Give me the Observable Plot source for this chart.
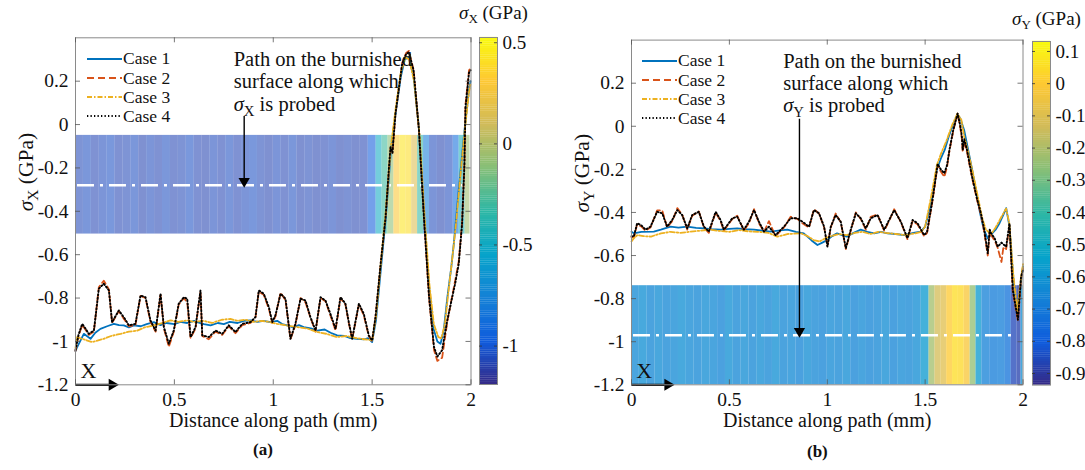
<!DOCTYPE html>
<html><head><meta charset="utf-8">
<script src="https://cdn.jsdelivr.net/npm/d3@7"></script>
<script src="https://cdn.jsdelivr.net/npm/@observablehq/plot@0.6"></script>
<style>
body{margin:0;background:#fff;font-family:"Liberation Serif","Times New Roman",serif;}
#root{position:relative;width:1085px;height:470px;overflow:hidden;background:#fff;}
.abs{position:absolute;}
.cbt{font-size:19px;white-space:nowrap;color:#111;}
.cbt sub{font-size:13px;vertical-align:-4px;}
.lg{font-size:17.5px;color:#111;white-space:nowrap;display:flex;align-items:center;height:19px;}
.lg svg{margin-right:1px;}
.pl{font-size:17px;font-weight:bold;color:#111;}
</style></head><body><div id="root"></div>
<script>
// ---------------- DATA ----------------
const xTicks = [0, 0.5, 1, 1.5, 2];
const yTicks = [0.2, 0, -0.2, -0.4, -0.6, -0.8, -1, -1.2];
const cbTicksA = [0.5, 0, -0.5, -1];
const cbTicksB = [0.1, 0, -0.1, -0.2, -0.3, -0.4, -0.5, -0.6, -0.7, -0.8, -0.9];
const cbDomainA = [-1.19, 0.526];
const cbDomainB = [-0.936, 0.131];
const caseNames = ["Case 1", "Case 2", "Case 3", "Case 4"];

// Panel (a): sigma_X along path
const a1 = [[0,-1.045],[0.008,-1.027],[0.042,-0.965],[0.076,-0.988],[0.1,-0.96],[0.126,-0.942],[0.16,-0.93],[0.194,-0.919],[0.22,-0.925],[0.244,-0.926],[0.27,-0.935],[0.295,-0.926],[0.33,-0.93],[0.36,-0.92],[0.396,-0.911],[0.43,-0.925],[0.46,-0.915],[0.5,-0.92],[0.53,-0.91],[0.565,-0.915],[0.6,-0.905],[0.615,-0.911],[0.65,-0.92],[0.683,-0.926],[0.72,-0.915],[0.75,-0.92],[0.78,-0.91],[0.82,-0.915],[0.85,-0.905],[0.885,-0.903],[0.92,-0.91],[0.95,-0.905],[0.986,-0.911],[1.02,-0.905],[1.045,-0.92],[1.07,-0.926],[1.1,-0.935],[1.13,-0.925],[1.154,-0.934],[1.19,-0.94],[1.222,-0.95],[1.26,-0.945],[1.29,-0.96],[1.323,-0.972],[1.36,-0.975],[1.39,-0.985],[1.424,-0.988],[1.46,-0.99],[1.48,-0.985],[1.5,-1.003],[1.52,-0.9],[1.545,-0.66],[1.57,-0.42],[1.595,-0.12],[1.62,0.06],[1.645,0.22],[1.665,0.3],[1.685,0.31],[1.71,0.22],[1.735,0.0],[1.76,-0.38],[1.785,-0.72],[1.81,-0.94],[1.83,-1.0],[1.846,-1.011],[1.862,-0.95],[1.88,-0.8],[1.9,-0.66],[1.913,-0.55],[1.938,-0.3],[1.967,-0.027],[1.99,0.16],[1.998,0.2]];
const a2 = [[0,-1.045],[0.015,-0.975],[0.034,-0.925],[0.05,-0.945],[0.067,-0.97],[0.093,-0.955],[0.118,-0.75],[0.143,-0.72],[0.169,-0.76],[0.185,-0.915],[0.219,-0.86],[0.244,-0.895],[0.27,-0.93],[0.303,-0.925],[0.329,-0.79],[0.354,-0.8],[0.379,-0.91],[0.405,-0.955],[0.43,-0.785],[0.447,-0.94],[0.472,-1.025],[0.497,-0.955],[0.522,-0.83],[0.548,-0.8],[0.565,-0.82],[0.582,-0.985],[0.607,-0.94],[0.632,-0.77],[0.641,-0.975],[0.674,-0.99],[0.708,-0.955],[0.742,-0.97],[0.775,-0.93],[0.809,-0.962],[0.843,-0.925],[0.885,-0.915],[0.91,-0.89],[0.927,-0.77],[0.952,-0.785],[0.978,-0.85],[0.995,-0.915],[1.011,-0.885],[1.037,-0.775],[1.062,-0.81],[1.087,-0.99],[1.112,-0.925],[1.138,-0.8],[1.163,-0.82],[1.188,-0.89],[1.214,-0.955],[1.239,-0.8],[1.264,-0.815],[1.289,-0.88],[1.315,-0.95],[1.34,-0.8],[1.365,-0.83],[1.382,-0.915],[1.399,-0.99],[1.433,-0.83],[1.458,-0.88],[1.483,-0.975],[1.5,-1.0],[1.517,-0.89],[1.543,-0.645],[1.568,-0.43],[1.585,-0.21],[1.593,-0.11],[1.603,-0.13],[1.618,0.05],[1.652,0.285],[1.672,0.33],[1.686,0.34],[1.71,0.25],[1.737,-0.03],[1.762,-0.43],[1.788,-0.8],[1.813,-1.04],[1.83,-1.09],[1.854,-1.075],[1.88,-0.91],[1.905,-0.79],[1.92,-0.72],[1.938,-0.63],[1.955,-0.45],[1.967,-0.17],[1.972,0.09],[1.99,0.25],[1.998,0.26]];
const a3 = [[0,-1.03],[0.008,-0.98],[0.04,-0.99],[0.084,-1.003],[0.115,-0.995],[0.143,-0.988],[0.18,-0.975],[0.228,-0.965],[0.27,-0.955],[0.312,-0.95],[0.35,-0.935],[0.396,-0.926],[0.44,-0.915],[0.48,-0.903],[0.52,-0.91],[0.565,-0.903],[0.6,-0.91],[0.65,-0.905],[0.69,-0.915],[0.74,-0.9],[0.783,-0.896],[0.82,-0.905],[0.86,-0.9],[0.9,-0.91],[0.94,-0.905],[0.98,-0.91],[1.02,-0.919],[1.06,-0.925],[1.12,-0.934],[1.17,-0.94],[1.222,-0.957],[1.27,-0.965],[1.32,-0.98],[1.37,-0.975],[1.42,-0.985],[1.46,-0.99],[1.5,-0.995],[1.52,-0.88],[1.545,-0.63],[1.57,-0.39],[1.595,-0.1],[1.62,0.08],[1.645,0.24],[1.668,0.31],[1.688,0.3],[1.712,0.2],[1.74,-0.05],[1.765,-0.42],[1.79,-0.74],[1.812,-0.92],[1.835,-0.98],[1.85,-0.985],[1.868,-0.92],[1.886,-0.77],[1.905,-0.62],[1.925,-0.45],[1.945,-0.25],[1.968,-0.03],[1.99,0.15],[1.998,0.19]];
const a4 = [[0,-1.04],[0.015,-0.97],[0.034,-0.919],[0.05,-0.94],[0.067,-0.965],[0.093,-0.95],[0.118,-0.757],[0.143,-0.734],[0.169,-0.765],[0.185,-0.911],[0.219,-0.857],[0.244,-0.888],[0.27,-0.926],[0.303,-0.919],[0.329,-0.788],[0.354,-0.796],[0.379,-0.903],[0.405,-0.95],[0.43,-0.78],[0.447,-0.934],[0.472,-1.011],[0.497,-0.95],[0.522,-0.826],[0.548,-0.796],[0.565,-0.803],[0.582,-0.98],[0.607,-0.934],[0.632,-0.765],[0.641,-0.972],[0.674,-0.98],[0.708,-0.95],[0.742,-0.965],[0.775,-0.926],[0.809,-0.957],[0.843,-0.919],[0.885,-0.911],[0.91,-0.888],[0.927,-0.765],[0.952,-0.78],[0.978,-0.842],[0.995,-0.911],[1.011,-0.88],[1.037,-0.78],[1.062,-0.803],[1.087,-0.988],[1.112,-0.919],[1.138,-0.803],[1.163,-0.811],[1.188,-0.888],[1.214,-0.95],[1.239,-0.796],[1.264,-0.811],[1.289,-0.873],[1.315,-0.942],[1.34,-0.796],[1.365,-0.826],[1.382,-0.911],[1.399,-0.988],[1.433,-0.826],[1.458,-0.873],[1.483,-0.972],[1.5,-0.996],[1.517,-0.888],[1.543,-0.642],[1.568,-0.427],[1.585,-0.2],[1.593,-0.104],[1.603,-0.13],[1.618,0.05],[1.652,0.28],[1.672,0.325],[1.686,0.334],[1.71,0.249],[1.737,-0.027],[1.762,-0.427],[1.788,-0.796],[1.813,-1.026],[1.83,-1.07],[1.854,-1.04],[1.88,-0.903],[1.905,-0.796],[1.92,-0.733],[1.938,-0.642],[1.955,-0.458],[1.967,-0.18],[1.972,0.08],[1.99,0.24],[1.998,0.25]];

// Panel (b): sigma_Y along path
const b1 = [[0,-0.49],[0.012,-0.497],[0.05,-0.49],[0.114,-0.489],[0.15,-0.48],[0.199,-0.466],[0.24,-0.47],[0.285,-0.466],[0.33,-0.472],[0.37,-0.474],[0.41,-0.478],[0.455,-0.48],[0.5,-0.476],[0.54,-0.474],[0.58,-0.478],[0.626,-0.48],[0.67,-0.485],[0.71,-0.489],[0.75,-0.484],[0.796,-0.48],[0.84,-0.49],[0.88,-0.497],[0.92,-0.53],[0.95,-0.551],[0.975,-0.54],[1.0,-0.528],[1.025,-0.51],[1.05,-0.497],[1.075,-0.505],[1.1,-0.512],[1.135,-0.495],[1.171,-0.48],[1.205,-0.49],[1.24,-0.497],[1.275,-0.49],[1.308,-0.497],[1.35,-0.5],[1.393,-0.505],[1.44,-0.495],[1.478,-0.489],[1.5,-0.466],[1.53,-0.36],[1.56,-0.2],[1.58,-0.15],[1.6,-0.11],[1.62,-0.05],[1.64,0.0],[1.665,0.055],[1.68,0.035],[1.7,-0.02],[1.72,-0.11],[1.74,-0.2],[1.76,-0.3],[1.78,-0.4],[1.8,-0.48],[1.82,-0.52],[1.84,-0.5],[1.86,-0.48],[1.88,-0.45],[1.9,-0.41],[1.914,-0.38],[1.93,-0.46],[1.95,-0.7],[1.97,-0.87],[1.99,-0.72],[2.0,-0.65]];
const b2 = [[0,-0.515],[0.012,-0.515],[0.029,-0.455],[0.05,-0.465],[0.072,-0.485],[0.097,-0.47],[0.131,-0.39],[0.157,-0.39],[0.182,-0.47],[0.208,-0.44],[0.234,-0.38],[0.259,-0.41],[0.285,-0.48],[0.31,-0.415],[0.344,-0.395],[0.37,-0.47],[0.395,-0.495],[0.43,-0.4],[0.455,-0.44],[0.472,-0.485],[0.515,-0.43],[0.54,-0.415],[0.574,-0.485],[0.6,-0.45],[0.626,-0.385],[0.651,-0.45],[0.677,-0.49],[0.702,-0.44],[0.736,-0.51],[0.779,-0.47],[0.813,-0.42],[0.847,-0.43],[0.873,-0.45],[0.907,-0.47],[0.932,-0.385],[0.958,-0.405],[0.984,-0.47],[1.001,-0.555],[1.018,-0.47],[1.043,-0.405],[1.069,-0.445],[1.095,-0.57],[1.12,-0.485],[1.146,-0.4],[1.171,-0.43],[1.197,-0.48],[1.222,-0.42],[1.257,-0.41],[1.291,-0.485],[1.316,-0.44],[1.342,-0.385],[1.376,-0.445],[1.41,-0.525],[1.436,-0.44],[1.461,-0.455],[1.495,-0.51],[1.51,-0.495],[1.538,-0.345],[1.564,-0.18],[1.58,-0.21],[1.598,-0.235],[1.612,-0.19],[1.624,-0.115],[1.643,-0.025],[1.666,0.06],[1.68,-0.01],[1.688,-0.06],[1.692,-0.12],[1.7,-0.07],[1.714,-0.12],[1.74,-0.24],[1.766,-0.345],[1.785,-0.41],[1.8,-0.48],[1.82,-0.6],[1.83,-0.49],[1.837,-0.505],[1.855,-0.53],[1.871,-0.565],[1.89,-0.63],[1.9,-0.56],[1.914,-0.57],[1.931,-0.46],[1.948,-0.77],[1.974,-0.9],[1.99,-0.71],[2.0,-0.66]];
const b3 = [[0,-0.535],[0.012,-0.52],[0.03,-0.505],[0.06,-0.51],[0.1,-0.512],[0.15,-0.497],[0.2,-0.49],[0.25,-0.495],[0.3,-0.489],[0.35,-0.485],[0.4,-0.48],[0.45,-0.486],[0.5,-0.49],[0.55,-0.482],[0.6,-0.488],[0.65,-0.49],[0.7,-0.495],[0.745,-0.512],[0.8,-0.5],[0.866,-0.497],[0.9,-0.51],[0.93,-0.528],[0.96,-0.535],[0.99,-0.52],[1.02,-0.51],[1.06,-0.5],[1.1,-0.505],[1.14,-0.495],[1.18,-0.49],[1.22,-0.5],[1.26,-0.49],[1.3,-0.495],[1.35,-0.5],[1.4,-0.505],[1.45,-0.497],[1.48,-0.49],[1.5,-0.466],[1.53,-0.33],[1.56,-0.18],[1.58,-0.13],[1.61,-0.065],[1.64,0.01],[1.665,0.058],[1.685,0.03],[1.7,-0.05],[1.72,-0.12],[1.745,-0.22],[1.77,-0.33],[1.79,-0.42],[1.81,-0.48],[1.837,-0.5],[1.86,-0.47],[1.89,-0.42],[1.914,-0.382],[1.93,-0.45],[1.95,-0.68],[1.97,-0.86],[1.99,-0.7],[2.0,-0.64]];
const b4 = [[0,-0.51],[0.012,-0.512],[0.029,-0.45],[0.05,-0.46],[0.072,-0.48],[0.097,-0.466],[0.131,-0.397],[0.157,-0.404],[0.182,-0.466],[0.208,-0.435],[0.234,-0.389],[0.259,-0.412],[0.285,-0.474],[0.31,-0.412],[0.344,-0.397],[0.37,-0.466],[0.395,-0.489],[0.43,-0.397],[0.455,-0.435],[0.472,-0.48],[0.515,-0.427],[0.54,-0.42],[0.574,-0.48],[0.6,-0.443],[0.626,-0.389],[0.651,-0.443],[0.677,-0.489],[0.702,-0.466],[0.736,-0.505],[0.779,-0.466],[0.813,-0.427],[0.847,-0.427],[0.873,-0.443],[0.907,-0.466],[0.932,-0.389],[0.958,-0.404],[0.984,-0.466],[1.001,-0.559],[1.018,-0.466],[1.043,-0.412],[1.069,-0.443],[1.095,-0.566],[1.12,-0.48],[1.146,-0.404],[1.171,-0.427],[1.197,-0.474],[1.222,-0.427],[1.257,-0.412],[1.291,-0.48],[1.316,-0.435],[1.342,-0.389],[1.376,-0.443],[1.41,-0.52],[1.436,-0.435],[1.461,-0.45],[1.495,-0.505],[1.51,-0.49],[1.538,-0.34],[1.564,-0.175],[1.58,-0.2],[1.598,-0.218],[1.612,-0.18],[1.624,-0.111],[1.643,-0.02],[1.666,0.059],[1.68,0.0],[1.688,-0.05],[1.692,-0.11],[1.7,-0.06],[1.714,-0.11],[1.74,-0.235],[1.766,-0.34],[1.785,-0.404],[1.8,-0.47],[1.82,-0.59],[1.83,-0.48],[1.837,-0.497],[1.855,-0.52],[1.871,-0.559],[1.89,-0.54],[1.914,-0.559],[1.931,-0.451],[1.948,-0.76],[1.974,-0.898],[1.99,-0.7],[2.0,-0.667]];

// Contour strips (surface maps) shown behind the curves
const heatEdgesA = [0,0.04,0.08,0.12,0.16,0.2,0.24,0.28,0.32,0.36,0.4,0.44,0.48,0.52,0.56,0.6,0.64,0.68,0.72,0.76,0.8,0.84,0.88,0.92,0.96,1.0,1.04,1.08,1.12,1.16,1.2,1.24,1.28,1.32,1.36,1.4,1.44,1.48,1.52,1.55,1.58,1.61,1.64,1.67,1.7,1.73,1.76,1.79,1.83,1.87,1.91,1.94,1.97,1.995];
const heatValsA = [-1.07,-1.05,-1.08,-1.06,-1.04,-1.08,-1.07,-1.05,-1.09,-1.06,-1.08,-1.05,-1.08,-1.07,-1.04,-1.08,-1.09,-1.06,-1.08,-1.05,-1.08,-1.06,-1.04,-1.07,-1.09,-1.06,-1.08,-1.05,-1.09,-1.07,-1.09,-1.08,-1.06,-1.09,-1.07,-1.09,-1.08,-0.98,-0.5,-0.3,-0.1,0.3,0.43,0.4,0.15,-0.32,-0.78,-1.06,-1.09,-1.06,-0.88,-0.42,-0.05];
const heatBandA = [-0.505, -0.05];
const heatEdgesB = [0,0.04,0.08,0.12,0.16,0.2,0.24,0.28,0.32,0.36,0.4,0.44,0.48,0.52,0.56,0.6,0.64,0.68,0.72,0.76,0.8,0.84,0.88,0.92,0.96,1.0,1.04,1.08,1.12,1.16,1.2,1.24,1.28,1.32,1.36,1.4,1.44,1.48,1.52,1.55,1.58,1.61,1.64,1.67,1.7,1.73,1.76,1.79,1.83,1.87,1.91,1.94,1.97,1.99,2.0];
const heatValsB = [-0.64,-0.62,-0.65,-0.63,-0.65,-0.64,-0.62,-0.64,-0.65,-0.63,-0.64,-0.66,-0.62,-0.65,-0.63,-0.65,-0.63,-0.65,-0.62,-0.65,-0.64,-0.66,-0.63,-0.65,-0.66,-0.64,-0.65,-0.63,-0.66,-0.64,-0.66,-0.65,-0.63,-0.66,-0.64,-0.65,-0.63,-0.58,-0.22,-0.13,-0.09,0.0,0.05,0.04,-0.02,-0.25,-0.58,-0.67,-0.69,-0.68,-0.72,-0.86,-0.88,-0.62];
const heatBandB = [-1.2, -0.74];

// Annotation content (probe path, arrows, text)
const probeA = {y: -0.28, x1: 0.01, x2: 1.96};
const probeB = {y: -0.97, x1: 0.01, x2: 1.97};
const noteTextA = ["Path on the burnished", "surface along which", "σ_X is probed"];
const noteTextB = ["Path on the burnished", "surface along which", "σ_Y is probed"];
const noteLineY = [0.3, 0.2, 0.095];
const noteXA = 0.8, noteXB = 0.775;
const arrowA = {x: 0.853, y1: 0.04, y2: -0.28};
const arrowB = {x: 0.858, y1: 0.035, y2: -0.97};
const axisArrow = {x1: 0, x2: 0.17, y: -1.2, labelX: 0.065, labelY: -1.135};

// ---------------- STYLE ----------------
const parula = ["#352a87","#0f5cdd","#1481d6","#06a4ca","#2eb7a4","#87bf77","#d1bb59","#fec832","#f9fb0e"];
const caseStyles = [
  {stroke: "#0072BD", dash: null, w: 1.8},
  {stroke: "#D95319", dash: "6,3.5", w: 1.8},
  {stroke: "#EDB120", dash: "5,2,1.5,2", w: 1.8},
  {stroke: "#000000", dash: "1.3,2.2", w: 1.9}
];
const FONT = "Liberation Serif";

function colorOpts(dom) {
  const [lo, hi] = dom;
  return {type: "linear", domain: parula.map((_, i) => lo + (hi - lo) * i / (parula.length - 1)), range: parula, clamp: true};
}

function subscriptify(root) {
  const ns = "http://www.w3.org/2000/svg";
  root.querySelectorAll("text, tspan").forEach(el => {
    if (el.children.length) return;
    const m = el.textContent.match(/^(.*?)σ_([XY])(.*)$/);
    if (!m) return;
    el.textContent = "";
    if (m[1]) el.appendChild(document.createTextNode(m[1]));
    const s = document.createElementNS(ns, "tspan");
    s.setAttribute("font-style", "italic"); s.textContent = "σ"; el.appendChild(s);
    const sub = document.createElementNS(ns, "tspan");
    sub.setAttribute("dy", "5"); sub.setAttribute("font-size", "0.72em"); sub.textContent = m[2]; el.appendChild(sub);
    const rest = document.createElementNS(ns, "tspan");
    rest.setAttribute("dy", "-5"); rest.textContent = m[3]; el.appendChild(rest);
  });
}

function panel(cfg) {
  const H = 470 - cfg.mT - cfg.mB;
  const FW = cfg.width - cfg.mL - cfg.mR;
  const cells = cfg.vals.map((v, i) => ({x1: cfg.edges[i], x2: cfg.edges[i + 1], v}));
  const notes = cfg.notes.map((t, i) => ({t, y: noteLineY[i]}));
  const marks = [
    Plot.rect(cells, {x1: "x1", x2: "x2", y1: () => cfg.band[0], y2: () => cfg.band[1], fill: "v", fillOpacity: cfg.heatOpacity}),
    Plot.ruleY([cfg.probe], {y: "y", x1: "x1", x2: "x2", stroke: "white", strokeWidth: 2.6, strokeDasharray: "17,6,3,6"}),
  ];
  cfg.series.forEach((s, i) => {
    const st = caseStyles[i];
    marks.push(Plot.line(s, {x: d => d[0], y: d => d[1], stroke: st.stroke, strokeWidth: st.w, strokeDasharray: st.dash}));
  });
  marks.push(
    Plot.link([cfg.arrow], {x1: "x", x2: "x", y1: "y1", y2: "y2", stroke: "black", strokeWidth: 1.4}),
    Plot.dot([cfg.arrow], {x: "x", y: "y2", symbol: "triangle", rotate: 180, r: 4.2, fill: "black", stroke: null, dy: -4}),
    Plot.text(notes, {x: () => cfg.noteX, y: "y", text: "t", textAnchor: "start", fontSize: 20.5, fill: "#111"}),
    Plot.link([axisArrow], {x1: "x1", x2: "x2", y1: "y", y2: "y", stroke: "black", strokeWidth: 2.2}),
    Plot.dot([axisArrow], {x: "x2", y: "y", symbol: "triangle", rotate: 90, r: 4.4, fill: "black", stroke: null, dx: 3}),
    Plot.text([axisArrow], {x: "labelX", y: "labelY", text: () => "X", fontSize: 22, fill: "#111"}),
    Plot.frame({stroke: "#8a8a8a", strokeWidth: 1}),
    Plot.tickX(xTicks, {x: d => d, insetTop: H - 5, stroke: "#555", strokeWidth: 0.8}),
    Plot.tickX(xTicks, {x: d => d, insetBottom: H - 5, stroke: "#555", strokeWidth: 0.8}),
    Plot.tickY(yTicks, {y: d => d, insetRight: FW - 5, stroke: "#555", strokeWidth: 0.8}),
    Plot.tickY(yTicks, {y: d => d, insetLeft: FW - 5, stroke: "#555", strokeWidth: 0.8}),
    Plot.axisX(xTicks, {tickSize: 0, tickPadding: 7, tickFormat: d => String(d), fontSize: 19.5, label: null}),
    Plot.axisY(yTicks, {tickSize: 0, tickPadding: 7, tickFormat: d => String(d), fontSize: 19.5, label: null}),
    Plot.text(["Distance along path (mm)"], {frameAnchor: "bottom", dy: 42, fontSize: 20, fill: "#111"}),
    Plot.text([cfg.ylabel], {frameAnchor: "left", rotate: -90, dx: -49, fontSize: 21.5, fill: "#111"})
  );
  const p = Plot.plot({
    width: cfg.width, height: 470,
    marginLeft: cfg.mL, marginRight: cfg.mR, marginTop: cfg.mT, marginBottom: cfg.mB,
    x: {domain: [0, 2], axis: null},
    y: {domain: [-1.2, 0.4], axis: null},
    color: colorOpts(cfg.cbDomain),
    style: {fontFamily: FONT, fontSize: "19px", color: "#111", background: "transparent", overflow: "visible"},
    marks
  });
  subscriptify(p);
  return p;
}

function colorbar(dom, ticks, barH) {
  const n = 160;
  const step = (dom[1] - dom[0]) / n;
  const steps = d3.range(n).map(i => dom[0] + step * (i + 0.5));
  return Plot.plot({
    width: 18 + 45, height: barH + 20,
    marginLeft: 0, marginRight: 45, marginTop: 10, marginBottom: 10,
    x: {domain: [0, 1], axis: null},
    y: {domain: dom, axis: null},
    color: colorOpts(dom),
    style: {fontFamily: FONT, fontSize: "19px", color: "#111", background: "transparent", overflow: "visible"},
    marks: [
      Plot.rect(steps, {y1: d => d - step / 2 - 0.0005, y2: d => d + step / 2 + 0.0005, fill: d => d}),
      Plot.frame({stroke: "#8a8a8a"}),
      Plot.tickY(ticks, {y: d => d, insetLeft: 15, stroke: "#333", strokeWidth: 0.8}),
      Plot.tickY(ticks, {y: d => d, insetRight: 15, stroke: "#333", strokeWidth: 0.8}),
      Plot.axisY(ticks, {anchor: "right", tickSize: 0, tickPadding: 5, tickFormat: d => String(d), fontSize: 19, label: null})
    ]
  });
}

const root = document.getElementById("root");
function place(el, left, top) { el.classList.add("abs"); el.style.left = left + "px"; el.style.top = top + "px"; root.appendChild(el); return el; }

const pA = panel({width: 475, mL: 75, mR: 4.5, mT: 37.3, mB: 85.7, edges: heatEdgesA, vals: heatValsA, band: heatBandA, heatOpacity: 0.58,
  probe: probeA, series: [a1, a2, a3, a4], arrow: arrowA, notes: noteTextA, noteX: noteXA, ylabel: "σ_X (GPa)", cbDomain: cbDomainA});
const pB = panel({width: 482, mL: 86, mR: 4.5, mT: 39.6, mB: 85.7, edges: heatEdgesB, vals: heatValsB, band: heatBandB, heatOpacity: 0.76,
  probe: probeB, series: [b1, b2, b3, b4], arrow: arrowB, notes: noteTextB, noteX: noteXB, ylabel: "σ_Y (GPa)", cbDomain: cbDomainB});
place(pA, 0, 0);
place(pB, 545, 0);
place(colorbar(cbDomainA, cbTicksA, 347), 479.3, 27.3);
place(colorbar(cbDomainB, cbTicksB, 343.6), 1032.3, 30.7);

function html(s) { const d = document.createElement("div"); d.innerHTML = s; return d.firstElementChild; }
place(html('<div class="cbt"><i>σ</i><sub>X</sub> (GPa)</div>'), 459, 2);
place(html('<div class="cbt"><i>σ</i><sub>Y</sub> (GPa)</div>'), 1012, 8);
place(html('<div class="pl">(a)</div>'), 253, 440);
place(html('<div class="pl">(b)</div>'), 807, 442);

function legend(left, tops) {
  caseNames.forEach((name, i) => {
    const st = caseStyles[i];
    const row = html(`<div class="lg"><svg width="35" height="8"><line x1="0" y1="4" x2="35" y2="4" stroke="${st.stroke}" stroke-width="1.8" ${st.dash ? `stroke-dasharray="${i === 1 ? "7,4" : st.dash}"` : ""}/></svg>${name}</div>`);
    place(row, left, tops[i] - 10);
  });
}
legend(87, [59, 78.5, 97.5, 116.7]);
legend(642, [61, 80.5, 99.5, 118.5]);
</script></body></html>
